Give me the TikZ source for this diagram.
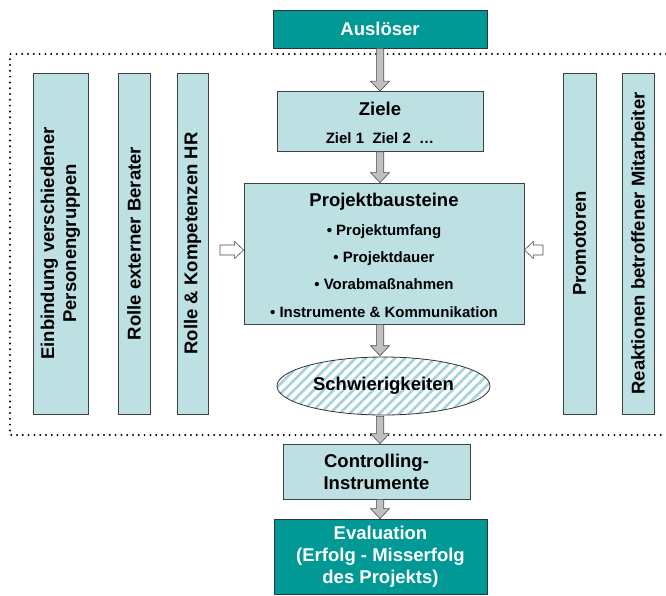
\documentclass[tikz,border=0pt]{standalone}
\usepackage{fontspec}
\setmainfont{Liberation Sans}
\usetikzlibrary{shapes.geometric,calc,patterns.meta}

\definecolor{tealfill}{RGB}{0,153,150}
\definecolor{bluefill}{RGB}{189,224,227}
\definecolor{arrowgray}{RGB}{192,192,192}
\definecolor{stripeblue}{RGB}{165,210,218}

% gray block arrow, downwards, x taken from the start point
\newcommand{\grayarrow}[2]{%
\draw [grayblock] let \p1=(#1), \p2=(#2) in
  (\x1-3.7pt,\y1) -- (\x1-3.7pt,\y2+10pt) -- (\x1-9.5pt,\y2+10pt) -- (\x1,\y2)
  -- (\x1+9.5pt,\y2+10pt) -- (\x1+3.7pt,\y2+10pt) -- (\x1+3.7pt,\y1) -- cycle;}

% hollow block arrow, horizontal, y taken from the start point
\newcommand{\hollowarrow}[2]{%
\draw [hollowblock] let \p1=(#1), \p2=(#2), \n1={sign(\x2-\x1)} in
  (\x1,\y1-5pt) -- (\x2-\n1*9pt,\y1-5pt) -- (\x2-\n1*9pt,\y1-8.5pt) -- (\x2,\y1)
  -- (\x2-\n1*9pt,\y1+8.5pt) -- (\x2-\n1*9pt,\y1+5pt) -- (\x1,\y1+5pt) -- cycle;}

\begin{document}
\begin{tikzpicture}[x=1pt,y=-1pt,
  darkbox/.style={draw=black!80,line width=0.8pt,fill=tealfill,text=white,inner sep=0pt,
    align=center,font=\bfseries\fontsize{18.5}{22}\selectfont},
  bluebox/.style={draw=black!75,line width=0.8pt,fill=bluefill,inner sep=0pt,
    align=center,font=\bfseries\fontsize{18.5}{22}\selectfont},
  sidebox/.style={bluebox,rotate=90,minimum width=341pt},
  titletext/.style={anchor=base,inner sep=0pt,font=\bfseries\fontsize{18.5}{22}\selectfont},
  itemtext/.style={anchor=base,inner sep=0pt,font=\bfseries\fontsize{15}{18}\selectfont},
  grayblock/.style={fill=arrowgray,draw=black!70,line width=0.6pt},
  hollowblock/.style={fill=white,draw=black!70,line width=0.6pt},
  dotframe/.style={line width=2.2pt,dash pattern=on 0pt off 5.8pt,line cap=round}]

\useasboundingbox (0,0) rectangle (666,595);

%%%%%%%%%%%%%%%%%%%%%%%%%%%%%%%%%%%%%%%%%%%%%%%%%%%%%%%%%%%%%%%%%
\draw [dotframe] (666,54) -- (10,54) -- (10,435) -- (666,435);

\node [darkbox,minimum width=214pt,minimum height=38pt] (ausloeser) at (380,29) {Auslöser};

\node [bluebox,minimum width=206pt,minimum height=60pt] (ziele) at (380,121.5) {};
\node [titletext] (zieletitle) at (380,115.6) {Ziele};
\node [itemtext] (zielitems) at (380,143.4) {Ziel 1\ \ Ziel 2\ \ …};

\node [bluebox,minimum width=280pt,minimum height=141pt] (bausteine) at (384,253.5) {};
\node [titletext] (bausteinetitle) at (384,206.6) {Projektbausteine};
\node [itemtext] (umfang) at (384,235.4) {\textbullet\ Projektumfang};
\node [itemtext] (dauer) at (384,262.4) {\textbullet\ Projektdauer};
\node [itemtext] (vorab) at (384,289.4) {\textbullet\ Vorabmaßnahmen};
\node [itemtext] (instrumente) at (384,317.4) {\textbullet\ Instrumente \& Kommunikation};

\node [ellipse,draw=black!80,line width=0.8pt,preaction={fill=white},
  pattern={Lines[angle=45,distance=7pt,line width=2.6pt]},pattern color=stripeblue,
  minimum width=213pt,minimum height=58pt,inner sep=0pt,
  font=\bfseries\fontsize{18.5}{22}\selectfont] (schwierig) at (383.5,386) {Schwierigkeiten};

\node [bluebox,minimum width=187pt,minimum height=55pt] (controlling) at (376.5,471.5) {Controlling-\\Instrumente};

\node [darkbox,minimum width=213pt,minimum height=75pt] (evaluation) at (380.5,556.5) {Evaluation\\(Erfolg - Misserfolg\\des Projekts)};

%%%%%%%%%%%%%%%%%%%%%%%%%%%%%%%%%%%%%%%%%%%%%%%%%%%%%%%%%%%%%%%%%
\node [sidebox,minimum height=55pt] (einbindung) at (60.5,243.5) {Einbindung verschiedener\\Personengruppen};
\node [sidebox,minimum height=32pt] (berater) at (134,243.5) {Rolle externer Berater};
\node [sidebox,minimum height=31pt] (kompetenz) at (192.5,243.5) {Rolle \& Kompetenzen HR};

\node [sidebox,minimum height=33pt] (promotoren) at (579.5,243.5) {Promotoren};
\node [sidebox,minimum height=32pt] (reaktionen) at (638,243.5) {Reaktionen betroffener Mitarbeiter};

%%%%%%%%%%%%%%%%%%%%%%%%%%%%%%%%%%%%%%%%%%%%%%%%%%%%%%%%%%%%%%%%%
\grayarrow{ausloeser.south}{ziele.north}
\grayarrow{ziele.south}{bausteine.north}
\grayarrow{bausteine.south -| ausloeser.south}{schwierig.north}
\grayarrow{schwierig.south -| ausloeser.south}{controlling.north}
\grayarrow{controlling.south -| ausloeser.south}{evaluation.north}

\coordinate (inleft) at (220,250);
\hollowarrow{inleft}{inleft -| bausteine.west}
\coordinate (inright) at (543,250);
\hollowarrow{inright}{inright -| bausteine.east}

\end{tikzpicture}
\end{document}
